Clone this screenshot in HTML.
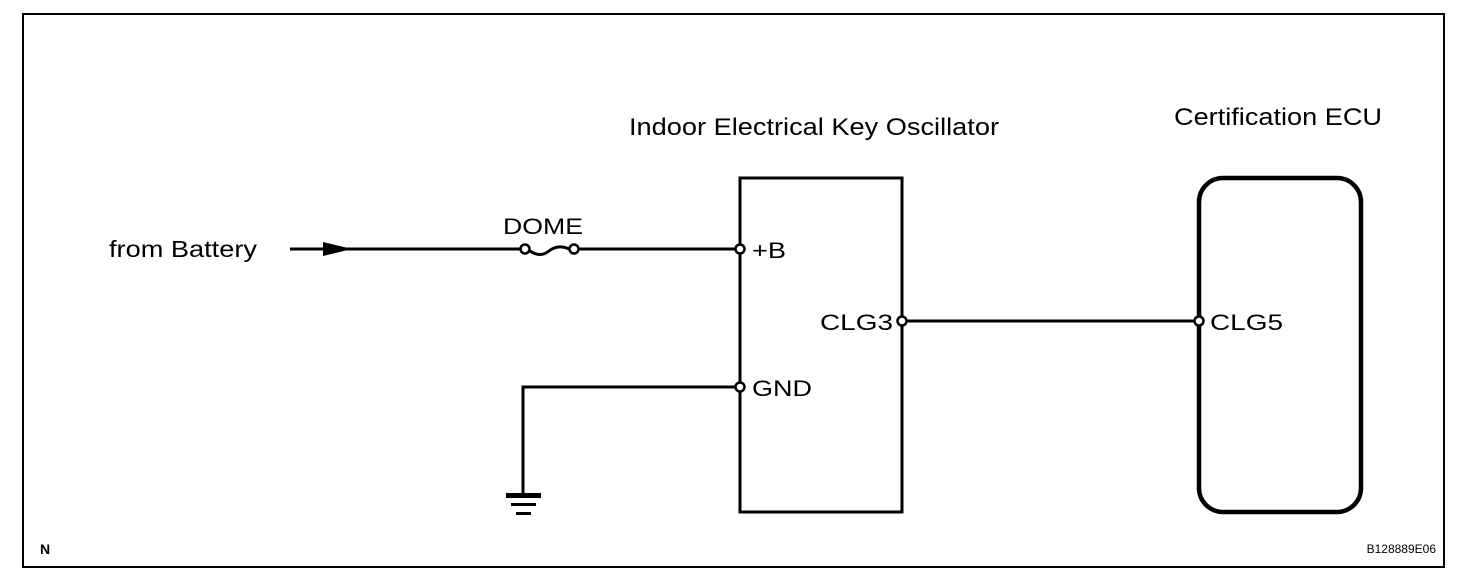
<!DOCTYPE html>
<html><head><style>
body{margin:0;background:#fff;}
svg{display:block;}
text{font-family:"Liberation Sans",sans-serif;fill:#000;}
</style></head><body>
<svg width="1472" height="582" viewBox="0 0 1472 582" xmlns="http://www.w3.org/2000/svg">
<rect x="23" y="14" width="1421" height="553" fill="none" stroke="#000" stroke-width="2"/>
<text x="629" y="135" font-size="24" textLength="370" lengthAdjust="spacingAndGlyphs">Indoor Electrical Key Oscillator</text>
<text x="1174" y="125" font-size="24" textLength="208" lengthAdjust="spacingAndGlyphs">Certification ECU</text>
<rect x="740" y="178" width="162" height="334" fill="none" stroke="#000" stroke-width="3"/>
<rect x="1199" y="178" width="162" height="334" rx="24" fill="none" stroke="#000" stroke-width="4.5"/>
<text x="109" y="257" font-size="23" textLength="148" lengthAdjust="spacingAndGlyphs">from Battery</text>
<line x1="290" y1="249" x2="520" y2="249" stroke="#000" stroke-width="3"/>
<polygon points="323,242 352,249 323,256" fill="#000"/>
<text x="503" y="234" font-size="22" textLength="80" lengthAdjust="spacingAndGlyphs">DOME</text>
<circle cx="525" cy="249" r="4.5" fill="#fff" stroke="#000" stroke-width="2.5"/>
<circle cx="574" cy="249" r="4.5" fill="#fff" stroke="#000" stroke-width="2.5"/>
<path d="M530,251 Q540,258 549,251 Q558,244 569,249" fill="none" stroke="#000" stroke-width="3"/>
<line x1="579" y1="249" x2="736" y2="249" stroke="#000" stroke-width="3"/>
<circle cx="740" cy="249" r="4.5" fill="#fff" stroke="#000" stroke-width="2.5"/>
<text x="752" y="258" font-size="22" textLength="34" lengthAdjust="spacingAndGlyphs">+B</text>
<polyline points="736,387 523,387 523,494" fill="none" stroke="#000" stroke-width="3"/>
<rect x="506" y="493" width="35" height="5" fill="#000"/>
<rect x="511" y="503" width="25" height="3" fill="#000"/>
<rect x="516" y="512" width="15" height="3" fill="#000"/>
<circle cx="740" cy="387" r="4.5" fill="#fff" stroke="#000" stroke-width="2.5"/>
<text x="752" y="396" font-size="22" textLength="60" lengthAdjust="spacingAndGlyphs">GND</text>
<line x1="906" y1="321" x2="1195" y2="321" stroke="#000" stroke-width="3"/>
<circle cx="902" cy="321" r="4.5" fill="#fff" stroke="#000" stroke-width="2.5"/>
<circle cx="1199" cy="321" r="4.5" fill="#fff" stroke="#000" stroke-width="2.5"/>
<text x="820" y="330" font-size="22" textLength="73" lengthAdjust="spacingAndGlyphs">CLG3</text>
<text x="1210" y="330" font-size="22" textLength="73" lengthAdjust="spacingAndGlyphs">CLG5</text>
<text x="40" y="554" font-size="14" font-weight="bold">N</text>
<text x="1436" y="553" font-size="12" text-anchor="end">B128889E06</text>
</svg>
</body></html>
